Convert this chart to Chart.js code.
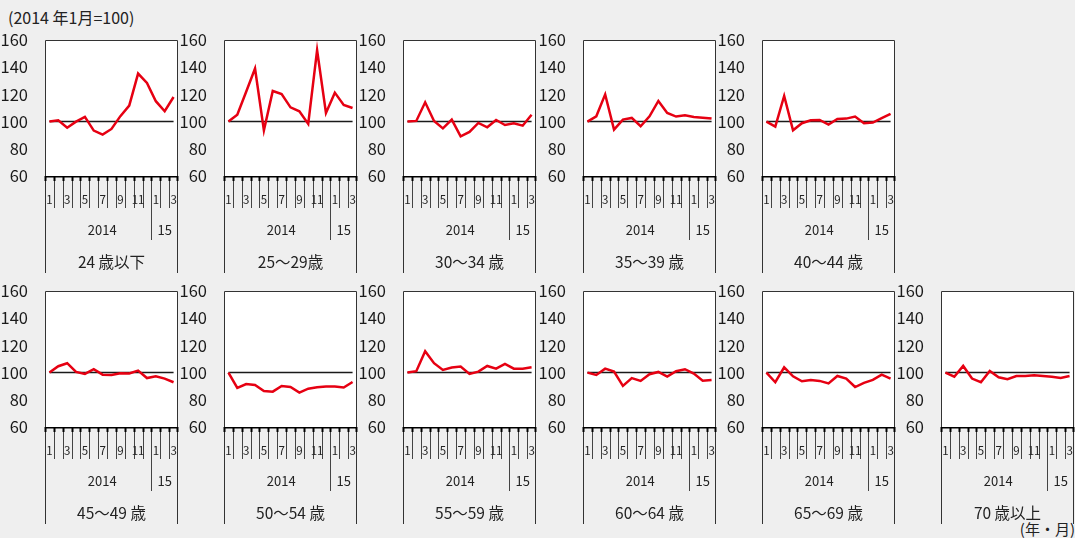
<!DOCTYPE html>
<html>
<head>
<meta charset="utf-8">
<script src="https://cdn.jsdelivr.net/npm/chart.js@4"></script>
<style>
  body { margin: 0; background: #efefef; width: 1075px; height: 538px; overflow: hidden; position: relative;
         font-family: "Noto Sans CJK JP", sans-serif; color: #222; }
  canvas { position: absolute; }
  #unit { position: absolute; left: 8px; top: 5px; font-size: 16px; }
  #note { position: absolute; right: 0px; top: 518px; font-size: 15px; }
</style>
</head>
<body>
<div id="unit">(2014 年1月=100)</div>
<div id="note">(年・月)</div>
<script>
// months Jan 2014 .. Mar 2015
const months = ['1','2','3','4','5','6','7','8','9','10','11','12','1','2','3'];
const years = ['2014', '15'];
const yearStart = [0, 12];
const BASE = 100;

const age24 = [100, 101, 95.5, 100, 103.5, 93.4, 90.4, 94.6, 104, 111.8, 135.3, 128.4, 115, 107.6, 118.1];
const age25 = [100, 105, 122, 139, 93.6, 122.5, 120.3, 110.5, 107.6, 98.3, 152.5, 106.4, 121.3, 112.3, 110];
const age30 = [100, 100.5, 114.2, 100.5, 95, 101.5, 89.2, 92.4, 99, 95.8, 101.2, 97.5, 98.8, 97, 105.1];
const age35 = [100, 103.9, 120, 94.1, 101.5, 102.7, 96.6, 103.9, 115.2, 106.4, 103.7, 104.7, 103.4, 102.9, 102.2];
const age40 = [100, 96.3, 118.9, 93.6, 98.8, 101, 101.2, 97.8, 102, 102.2, 103.7, 98.8, 99.3, 102.5, 105.6];
const age45 = [100, 104.7, 106.9, 100.5, 99, 102.5, 98.5, 98.3, 99.5, 99.3, 101.5, 96, 97.3, 95.6, 92.9];
const age50 = [100, 88.7, 91.6, 90.9, 86.5, 86, 90.2, 89.4, 85.3, 88.2, 89.2, 89.7, 89.7, 89, 93.1];
const age55 = [100, 101, 115.7, 106.9, 102, 103.7, 104.4, 99, 100.7, 104.9, 102.9, 106.4, 102.9, 102.9, 103.9];
const age60 = [100, 98.3, 102.9, 100.7, 90.2, 96, 93.9, 98.8, 100.5, 97, 101, 102.5, 99.3, 94.1, 94.6];
const age65 = [100, 92.9, 103.9, 97.3, 93.6, 94.6, 93.9, 92.1, 97.5, 95.6, 89.4, 92.4, 94.6, 98.5, 95.6];
const age70 = [100, 97, 104.9, 95.6, 92.9, 101.2, 96.6, 95.1, 97.5, 97.5, 98, 97.5, 97, 96, 97.5];

const groupNames = ['24 歳以下', '25～29歳', '30～34 歳', '35～39 歳', '40～44 歳',
                    '45～49 歳', '50～54 歳', '55～59 歳', '60～64 歳', '65～69 歳', '70 歳以上'];
const groupValues = [age24, age25, age30, age35, age40, age45, age50, age55, age60, age65, age70];

const FONT = '"Noto Sans CJK JP", sans-serif';
const colLeft = [0, 179, 358, 538, 717, 896];
const rowTop = [30, 281];

const panelPlugin = {
  id: 'panel',
  beforeDraw(chart) {
    const a = chart.chartArea, c = chart.ctx;
    c.save();
    c.fillStyle = '#fff';
    c.fillRect(a.left, a.top, a.right - a.left, a.bottom - a.top);
    c.restore();
  },
  beforeDatasetsDraw(chart) {
    const { x, y } = chart.scales, c = chart.ctx;
    const yb = y.getPixelForValue(BASE);
    c.save();
    c.strokeStyle = '#1a1a1a';
    c.lineWidth = 1.5;
    c.beginPath();
    c.moveTo(x.getPixelForValue(0), yb);
    c.lineTo(x.getPixelForValue(months.length - 1), yb);
    c.stroke();
    c.restore();
  },
  afterDraw(chart, args, opts) {
    const { x } = chart.scales, a = chart.chartArea, c = chart.ctx;
    const step = x.getPixelForValue(1) - x.getPixelForValue(0);
    const bnd = i => Math.round(x.getPixelForValue(i) + step / 2) + 0.5;
    const L = Math.round(a.left) + 0.5, R = Math.round(a.right) - 0.5;
    const T = Math.round(a.top) + 0.5, B = Math.round(a.bottom);
    c.save();
    // box + long side borders
    c.strokeStyle = '#333';
    c.lineWidth = 1;
    c.beginPath();
    c.moveTo(L, B + 97); c.lineTo(L, T); c.lineTo(R, T); c.lineTo(R, B + 97);
    c.stroke();
    // month separators
    c.strokeStyle = '#444';
    for (let i = 0; i < months.length - 1; i++) {
      const len = yearStart.includes(i + 1) ? 64 : 32;
      c.beginPath(); c.moveTo(bnd(i), B); c.lineTo(bnd(i), B + len); c.stroke();
    }
    // short ticks
    c.strokeStyle = '#000';
    c.lineWidth = 2;
    for (let i = -1; i < months.length; i++) {
      const px = i < 0 ? L : (i === months.length - 1 ? R : bnd(i));
      c.beginPath(); c.moveTo(px, B); c.lineTo(px, B + 5); c.stroke();
    }
    // axis line
    c.lineWidth = 1.5;
    c.beginPath(); c.moveTo(L, B + 0.75); c.lineTo(R, B + 0.75); c.stroke();
    // month labels
    c.fillStyle = '#222';
    c.textAlign = 'center';
    c.textBaseline = 'middle';
    c.font = '11.5px ' + FONT;
    months.forEach((m, i) => {
      if (i % 2 === 0) c.fillText(m, x.getPixelForValue(i), B + 24);
    });
    // year labels
    c.font = '13px ' + FONT;
    years.forEach((yr, k) => {
      const from = yearStart[k], to = k + 1 < yearStart.length ? yearStart[k + 1] - 1 : months.length - 1;
      const cx = (x.getPixelForValue(from) + x.getPixelForValue(to)) / 2 + (k === 0 ? 4 : 0);
      c.fillText(yr, cx, B + 54);
    });
    // group name
    c.font = '15.5px ' + FONT;
    c.fillText(opts.name, (a.left + a.right) / 2, B + 86);
    c.restore();
  }
};

groupNames.forEach((name, idx) => {
  const row = idx < 5 ? 0 : 1;
  const col = idx < 5 ? idx : idx - 5;
  const cv = document.createElement('canvas');
  cv.width = 180; cv.height = 246;
  cv.style.left = colLeft[col] + 'px';
  cv.style.top = rowTop[row] + 'px';
  document.body.appendChild(cv);
  new Chart(cv, {
    type: 'line',
    data: {
      labels: months,
      datasets: [{
        data: groupValues[idx],
        borderColor: '#e60012',
        borderWidth: 2.5,
        pointRadius: 0,
        tension: 0
      }]
    },
    options: {
      responsive: false,
      animation: false,
      layout: { padding: { left: 0, top: 10, right: 2, bottom: 100 } },
      plugins: { legend: { display: false }, tooltip: { enabled: false }, panel: { name: name } },
      scales: {
        x: { display: false, offset: true },
        y: {
          min: 60, max: 160,
          ticks: { stepSize: 20, padding: 9, color: '#1a1a1a', font: { family: FONT, size: 16.5 } },
          grid: { display: false },
          border: { display: false },
          afterFit: s => { s.width = 45; s.paddingTop = 0; s.paddingBottom = 0; }
        }
      }
    },
    plugins: [panelPlugin]
  });
});
</script>
</body>
</html>
